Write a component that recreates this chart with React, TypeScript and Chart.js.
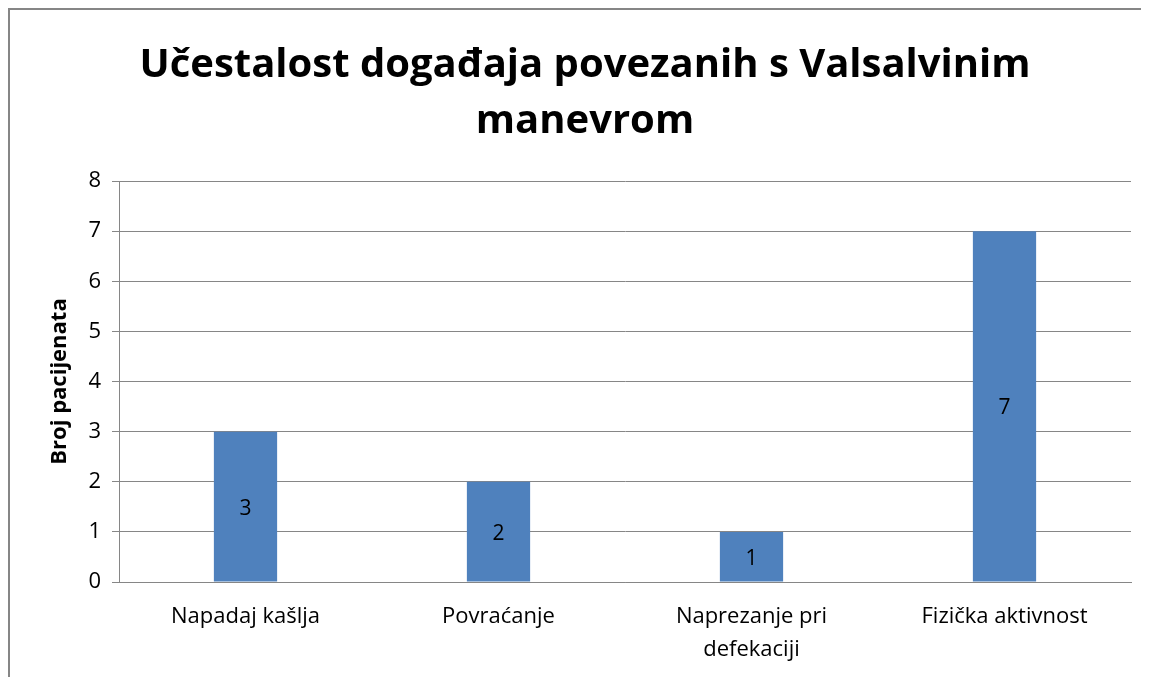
import React, { useEffect, useRef } from "react";
import { Chart, registerables } from "chart.js";

Chart.register(...registerables);

const categories: (string | string[])[] = [
  "Napadaj kašlja",
  "Povraćanje",
  ["Naprezanje pri", "defekaciji"],
  "Fizička aktivnost",
];
const values: number[] = [3, 2, 1, 7];
const titleLines: string[] = ["Učestalost događaja povezanih s Valsalvinim", "manevrom"];
const yAxisTitle = "Broj pacijenata";
const yMin = 0;
const yMax = 8;
const yStep = 1;

const FONT = "'Open Sans', sans-serif";
const GRID = "#868686";
const BAR = "#4F81BD";

const valueLabels = {
  id: "valueLabels",
  afterDatasetsDraw(chart: any) {
    const ctx = chart.ctx;
    const meta = chart.getDatasetMeta(0);
    ctx.save();
    ctx.fillStyle = "#000";
    ctx.font = `21px ${FONT}`;
    ctx.textAlign = "center";
    ctx.textBaseline = "middle";
    meta.data.forEach((el: any, i: number) => {
      const v = chart.data.datasets[0].data[i];
      ctx.fillText(String(v), el.x, (el.y + el.base) / 2 + 2);
    });
    ctx.restore();
  },
};

export default function App() {
  const ref = useRef<HTMLCanvasElement | null>(null);
  useEffect(() => {
    if (!ref.current) return;
    const chart = new Chart(ref.current, {
      type: "bar",
      data: {
        labels: categories,
        datasets: [
          {
            data: values,
            backgroundColor: BAR,
            barPercentage: 0.25,
            categoryPercentage: 1,
          },
        ],
      },
      options: {
        animation: false,
        responsive: false,
        maintainAspectRatio: false,
        layout: { padding: { left: 29, right: 29, top: 0, bottom: 0 } },
        plugins: {
          legend: { display: false },
          tooltip: { enabled: false },
          title: {
            display: true,
            text: titleLines,
            color: "#000",
            font: { family: FONT, size: 40, weight: "bold", lineHeight: 1.4 },
            padding: { top: 28, bottom: 31 },
          },
        },
        scales: {
          x: {
            grid: { display: false, drawTicks: false },
            border: { display: true, color: GRID, width: 1 },
            ticks: {
              color: "#000",
              font: { family: FONT, size: 22, lineHeight: 1.5 },
              padding: 18,
              maxRotation: 0,
              autoSkip: false,
            },
            afterFit: (s: any) => {
              s.height = 118;
            },
          },
          y: {
            min: yMin,
            max: yMax,
            ticks: {
              stepSize: yStep,
              color: "#000",
              font: { family: FONT, size: 22 },
              padding: 11,
            },
            grid: { color: GRID, lineWidth: 1, tickLength: 7 },
            border: { display: true, color: GRID, width: 1 },
            title: {
              display: true,
              text: yAxisTitle,
              color: "#000",
              font: { family: FONT, size: 22, weight: "bold", lineHeight: 1.2 },
              padding: { top: 8, bottom: 0 },
            },
            afterFit: (s: any) => {
              s.width = 80;
            },
          },
        },
      },
      plugins: [valueLabels],
    });
    return () => chart.destroy();
  }, []);

  return (
    <div style={{ width: 1141, height: 669, overflow: "hidden" }}>
      <div
        style={{
          width: 1160,
          height: 700,
          borderTop: `2px solid ${GRID}`,
          borderLeft: `2px solid ${GRID}`,
          boxSizing: "border-box",
        }}
      >
        <canvas ref={ref} width={1150} height={690} style={{ display: "block", width: 1150, height: 690 }} />
      </div>
    </div>
  );
}
